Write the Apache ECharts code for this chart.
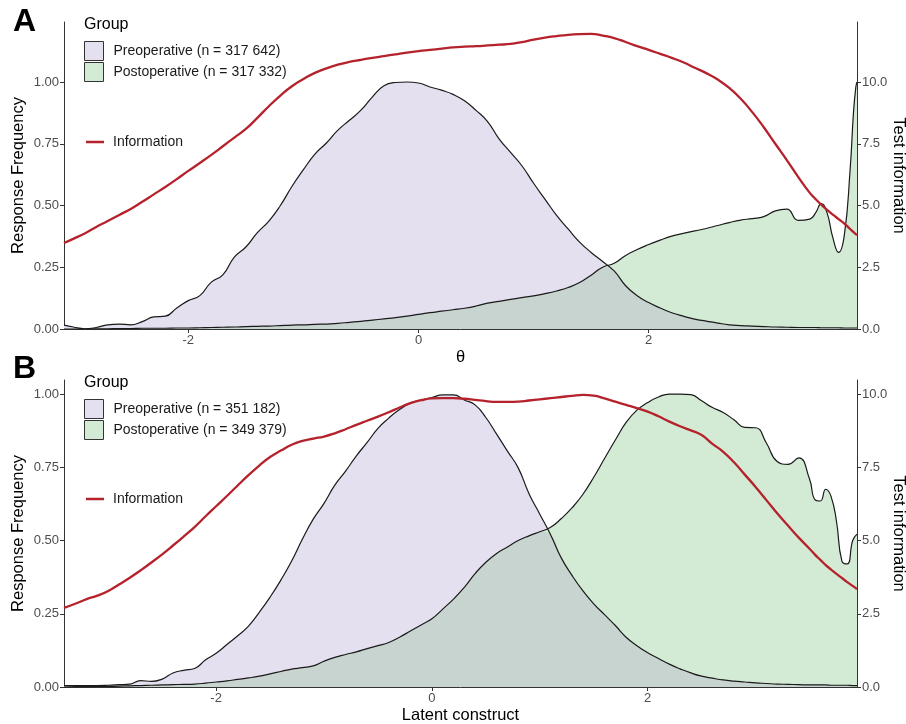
<!DOCTYPE html>
<html>
<head>
<meta charset="utf-8">
<script src="https://cdn.jsdelivr.net/npm/echarts@6/dist/echarts.min.js"></script>
<style>html,body{margin:0;padding:0;background:#fff}#c{width:906px;height:724px}</style>
</head>
<body>
<div id="c"></div>
<script>
// ---------- Panel A data (theta grid, densities scaled to max 1, test information) ----------
const xA = [-3.08,-3.0,-2.9,-2.8,-2.7,-2.6,-2.5,-2.4,-2.3,-2.2,-2.1,-2.0,-1.9,-1.8,-1.7,-1.6,-1.5,-1.4,-1.3,-1.2,-1.1,-1.0,-0.9,-0.8,-0.7,-0.6,-0.5,-0.4,-0.3,-0.2,-0.1,0.0,0.1,0.2,0.3,0.4,0.5,0.6,0.7,0.8,0.9,1.0,1.1,1.2,1.3,1.4,1.5,1.6,1.7,1.8,1.9,2.0,2.1,2.2,2.3,2.4,2.5,2.6,2.7,2.8,2.9,3.0,3.1,3.2,3.3,3.4,3.45,3.5,3.55,3.6,3.65,3.7,3.75,3.78,3.8,3.81];
const preA = [0.016,0.008,0.001,0.006,0.017,0.020,0.017,0.030,0.049,0.052,0.085,0.115,0.135,0.190,0.219,0.291,0.332,0.390,0.437,0.500,0.577,0.645,0.708,0.753,0.805,0.845,0.886,0.940,0.985,0.998,1.000,0.996,0.980,0.967,0.950,0.924,0.885,0.840,0.770,0.715,0.660,0.590,0.525,0.460,0.405,0.352,0.310,0.273,0.235,0.175,0.135,0.107,0.085,0.066,0.052,0.040,0.032,0.024,0.017,0.014,0.012,0.010,0.008,0.007,0.006,0.006,0.006,0.005,0.005,0.005,0.005,0.004,0.004,0.004,0.004,0.004];
const postA = [0.000,0.000,0.000,0.001,0.001,0.002,0.002,0.003,0.003,0.003,0.004,0.004,0.005,0.006,0.007,0.008,0.010,0.011,0.012,0.014,0.016,0.017,0.019,0.020,0.023,0.027,0.031,0.036,0.041,0.046,0.052,0.059,0.066,0.072,0.078,0.084,0.093,0.105,0.112,0.120,0.127,0.134,0.143,0.154,0.168,0.188,0.218,0.250,0.266,0.298,0.322,0.342,0.360,0.376,0.387,0.397,0.407,0.419,0.431,0.441,0.447,0.455,0.478,0.485,0.440,0.445,0.470,0.508,0.470,0.370,0.310,0.380,0.644,0.880,0.980,1.000];
const infoA = [3.48,3.65,3.87,4.13,4.37,4.62,4.86,5.15,5.45,5.75,6.07,6.40,6.72,7.05,7.40,7.75,8.10,8.55,9.02,9.45,9.83,10.12,10.37,10.55,10.70,10.82,10.90,10.98,11.05,11.12,11.19,11.25,11.30,11.35,11.40,11.43,11.45,11.48,11.51,11.54,11.62,11.72,11.80,11.86,11.91,11.94,11.95,11.88,11.78,11.62,11.45,11.30,11.14,10.98,10.80,10.58,10.36,10.10,9.76,9.32,8.78,8.17,7.50,6.84,6.15,5.51,5.26,5.03,4.82,4.63,4.45,4.27,4.05,3.92,3.84,3.80];

// ---------- Panel B data ----------
const xB = [-3.41,-3.3,-3.2,-3.1,-3.0,-2.9,-2.8,-2.7,-2.6,-2.5,-2.4,-2.3,-2.2,-2.1,-2.0,-1.9,-1.8,-1.7,-1.6,-1.5,-1.4,-1.3,-1.2,-1.1,-1.0,-0.9,-0.8,-0.7,-0.6,-0.5,-0.4,-0.3,-0.2,-0.1,0.0,0.1,0.2,0.3,0.4,0.5,0.6,0.7,0.8,0.9,1.0,1.1,1.2,1.3,1.4,1.5,1.6,1.7,1.8,1.9,2.0,2.1,2.2,2.3,2.4,2.5,2.6,2.7,2.8,2.9,3.0,3.1,3.2,3.3,3.4,3.5,3.55,3.6,3.65,3.7,3.75,3.8,3.85,3.9,3.94];
const preB = [0.005,0.005,0.005,0.005,0.006,0.008,0.010,0.022,0.019,0.027,0.048,0.057,0.063,0.092,0.115,0.145,0.175,0.208,0.255,0.307,0.365,0.430,0.505,0.573,0.627,0.689,0.737,0.789,0.835,0.883,0.918,0.947,0.969,0.979,0.988,0.997,0.997,0.980,0.963,0.920,0.863,0.805,0.748,0.660,0.590,0.520,0.440,0.380,0.328,0.284,0.247,0.210,0.170,0.141,0.117,0.097,0.078,0.062,0.048,0.037,0.030,0.024,0.020,0.017,0.014,0.012,0.010,0.009,0.008,0.007,0.007,0.007,0.007,0.006,0.006,0.006,0.006,0.005,0.005];
const postB = [0.000,0.001,0.001,0.002,0.002,0.003,0.004,0.005,0.006,0.007,0.008,0.009,0.010,0.013,0.017,0.021,0.026,0.031,0.037,0.045,0.053,0.061,0.066,0.072,0.088,0.101,0.111,0.120,0.131,0.141,0.152,0.170,0.191,0.212,0.233,0.266,0.300,0.340,0.387,0.426,0.456,0.478,0.500,0.516,0.530,0.545,0.575,0.612,0.658,0.716,0.780,0.843,0.903,0.945,0.971,0.990,1.000,1.000,0.998,0.977,0.954,0.937,0.912,0.886,0.885,0.833,0.770,0.760,0.782,0.710,0.640,0.635,0.675,0.650,0.565,0.430,0.420,0.500,0.522];
const infoB = [2.70,2.85,3.00,3.12,3.28,3.50,3.73,3.98,4.25,4.53,4.83,5.14,5.46,5.82,6.17,6.52,6.88,7.23,7.56,7.85,8.07,8.27,8.40,8.48,8.55,8.66,8.80,8.95,9.09,9.23,9.38,9.54,9.69,9.79,9.85,9.86,9.86,9.84,9.80,9.76,9.73,9.73,9.74,9.78,9.82,9.86,9.90,9.94,9.97,9.95,9.85,9.74,9.63,9.52,9.40,9.24,9.06,8.90,8.76,8.60,8.30,8.03,7.67,7.25,6.83,6.38,5.93,5.51,5.10,4.72,4.52,4.34,4.16,4.01,3.86,3.72,3.58,3.45,3.34];

// ---------- labels ----------
const groupA = ['Preoperative (n = 317 642)', 'Postoperative (n = 317 332)'];
const groupB = ['Preoperative (n = 351 182)', 'Postoperative (n = 349 379)'];
const freqTicks = [0, 0.25, 0.5, 0.75, 1.0];
const infoTicks = [0, 2.5, 5, 7.5, 10];
const thetaTicks = [-2, 0, 2];

const PRE = '#e4e0ef', POST = '#d3ebd4', OVER = '#c8d4cf', INFO = '#b5222c', EDGE = '#1a1a1a';
const FONT = '"Liberation Sans", Arial, sans-serif';

const pairs = (xs, ys) => xs.map((x, i) => [x, ys[i]]);
const mins = (a, b) => a.map((v, i) => Math.min(v, b[i]));

function panelSeries(gi, xs, pre, post, info, names) {
  const base = {type: 'line', xAxisIndex: gi, yAxisIndex: gi * 2, showSymbol: false, smooth: 0.5, silent: true};
  return [
    Object.assign({}, base, {name: names[0], data: pairs(xs, pre), lineStyle: {opacity: 0}, itemStyle: {color: PRE}, areaStyle: {color: PRE, opacity: 1}}),
    Object.assign({}, base, {name: names[1], data: pairs(xs, post), lineStyle: {opacity: 0}, itemStyle: {color: POST}, areaStyle: {color: POST, opacity: 1}}),
    Object.assign({}, base, {name: 'overlap' + gi, data: pairs(xs, mins(pre, post)), lineStyle: {opacity: 0}, itemStyle: {color: OVER}, areaStyle: {color: OVER, opacity: 1}}),
    Object.assign({}, base, {name: 'preLine' + gi, data: pairs(xs, pre), lineStyle: {color: EDGE, width: 1.2}, itemStyle: {color: EDGE}}),
    Object.assign({}, base, {name: 'postLine' + gi, data: pairs(xs, post), lineStyle: {color: EDGE, width: 1.2}, itemStyle: {color: EDGE}}),
    Object.assign({}, base, {name: 'Information', yAxisIndex: gi * 2 + 1, data: pairs(xs, info), lineStyle: {color: INFO, width: 2.3}, itemStyle: {color: INFO}})
  ];
}

function xAxis(gi, min, max, name) {
  return {
    gridIndex: gi, type: 'value', min: min, max: max,
    name: name, nameLocation: 'middle', nameGap: 20, nameMoveOverlap: false,
    nameTextStyle: {fontSize: 16.5, color: '#000', fontFamily: FONT},
    axisLine: {onZero: false, lineStyle: {color: '#333', width: 1}},
    axisTick: {customValues: thetaTicks, length: 4, lineStyle: {color: '#333'}},
    axisLabel: {customValues: thetaTicks, color: '#4d4d4d', fontSize: 13, fontFamily: FONT, margin: 5},
    splitLine: {show: false}
  };
}
function yAxes(gi, max) {
  return [{
    gridIndex: gi, type: 'value', position: 'left', min: 0, max: max,
    name: 'Response Frequency', nameLocation: 'middle', nameGap: 37, nameMoveOverlap: false,
    nameTextStyle: {fontSize: 16.5, color: '#000', fontFamily: FONT},
    axisLine: {show: true, onZero: false, lineStyle: {color: '#333', width: 1}},
    axisTick: {show: true, customValues: freqTicks, length: 4, lineStyle: {color: '#333'}},
    axisLabel: {customValues: freqTicks, color: '#4d4d4d', fontSize: 13, fontFamily: FONT, margin: 5, formatter: v => v.toFixed(2)},
    splitLine: {show: false}
  }, {
    gridIndex: gi, type: 'value', position: 'right', min: 0, max: max * 10,
    name: 'Test information', nameLocation: 'middle', nameGap: 33, nameRotate: -90, nameMoveOverlap: false,
    nameTextStyle: {fontSize: 16.5, color: '#000', fontFamily: FONT},
    axisLine: {show: true, onZero: false, lineStyle: {color: '#333', width: 1}},
    axisTick: {show: true, customValues: infoTicks, length: 4, lineStyle: {color: '#333'}},
    axisLabel: {customValues: infoTicks, color: '#4d4d4d', fontSize: 13, fontFamily: FONT, margin: 5, formatter: v => v.toFixed(1)},
    splitLine: {show: false}
  }];
}
function groupLegend(names, top) {
  return {
    left: 84, top: top, orient: 'vertical', icon: 'rect', itemWidth: 19, itemHeight: 19, itemGap: 1,
    padding: 0, selectedMode: false,
    textStyle: {fontSize: 14, color: '#1a1a1a', fontFamily: FONT, padding: [0, 0, 0, 5]},
    data: [
      {name: names[0], itemStyle: {color: PRE, borderColor: '#333', borderWidth: 1}},
      {name: names[1], itemStyle: {color: POST, borderColor: '#333', borderWidth: 1}}
    ]
  };
}
function infoLegend(top) {
  return {
    left: 86, top: top, icon: 'rect', itemWidth: 18, itemHeight: 2.5, padding: 0, selectedMode: false,
    textStyle: {fontSize: 14, color: '#1a1a1a', fontFamily: FONT, padding: [0, 0, 0, 4]},
    data: [{name: 'Information', itemStyle: {color: INFO}}]
  };
}

const chart = echarts.init(document.getElementById('c'), null, {renderer: 'canvas'});
chart.setOption({
  animation: false,
  backgroundColor: '#fff',
  grid: [
    {left: 64, right: 49, top: 22, height: 307, outerBoundsMode: 'none', containLabel: false},
    {left: 64, right: 49, top: 380, height: 307, outerBoundsMode: 'none', containLabel: false}
  ],
  xAxis: [xAxis(0, -3.08, 3.81, 'θ'), xAxis(1, -3.41, 3.94, 'Latent construct')],
  yAxis: yAxes(0, 1.243).concat(yAxes(1, 1.048)),
  legend: [groupLegend(groupA, 41), infoLegend(135), groupLegend(groupB, 399), infoLegend(492)],
  graphic: [
    {type: 'text', x: 13, y: 22, style: {text: 'A', font: 'bold 32px ' + FONT, fill: '#000', textVerticalAlign: 'middle'}},
    {type: 'text', x: 13, y: 369, style: {text: 'B', font: 'bold 32px ' + FONT, fill: '#000', textVerticalAlign: 'middle'}},
    {type: 'text', x: 84, y: 25, style: {text: 'Group', font: '16px ' + FONT, fill: '#000', textVerticalAlign: 'middle'}},
    {type: 'text', x: 84, y: 383, style: {text: 'Group', font: '16px ' + FONT, fill: '#000', textVerticalAlign: 'middle'}}
  ],
  series: panelSeries(0, xA, preA, postA, infoA, groupA).concat(panelSeries(1, xB, preB, postB, infoB, groupB))
});
</script>
</body>
</html>
